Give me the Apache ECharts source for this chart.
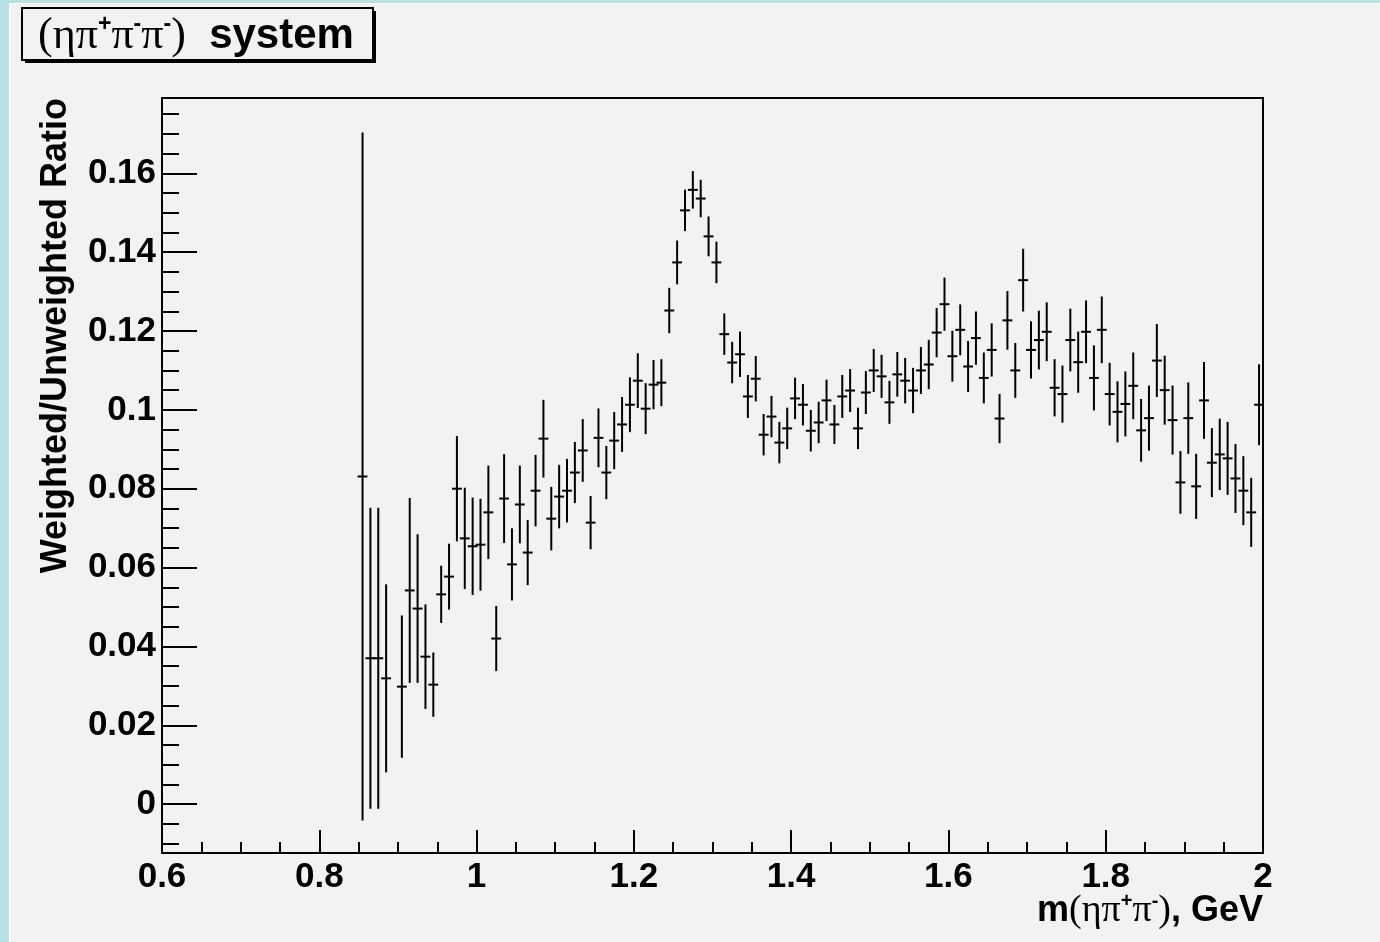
<!DOCTYPE html>
<html>
<head>
<meta charset="utf-8">
<script src="https://cdn.jsdelivr.net/npm/echarts@6/dist/echarts.min.js"></script>
<style>
  html, body { margin: 0; padding: 0; background: #f2f2f2; }
  #chart { width: 1380px; height: 942px; }
</style>
</head>
<body>
<div id="chart"></div>
<script>
// Histogram binning in m(eta pi+ pi-), GeV
const BIN_START = 0.85;
const BIN_WIDTH = 0.01;

// Weighted/unweighted ratio per bin (null = empty bin)
const ratio = [
  0.0831, 0.0370, 0.0370, 0.0319, null,   0.0298, 0.0542, 0.0496, 0.0374, 0.0303,
  0.0532, 0.0577, 0.0800, 0.0674, 0.0654, 0.0658, 0.0740, 0.0420, 0.0775, 0.0608,
  0.0760, 0.0638, 0.0795, 0.0927, 0.0724, 0.0780, 0.0795, 0.0841, 0.0897, 0.0714,
  0.0929, 0.0841, 0.0922, 0.0963, 0.1013, 0.1074, 0.1003, 0.1064, 0.1069, 0.1252,
  0.1374, 0.1506, 0.1558, 0.1536, 0.1440, 0.1374, 0.1192, 0.1120, 0.1141, 0.1034,
  0.1079, 0.0937, 0.0983, 0.0917, 0.0953, 0.1029, 0.1013, 0.0947, 0.0968, 0.1024,
  0.0963, 0.1034, 0.1049, 0.0953, 0.1044, 0.1100, 0.1085, 0.1019, 0.1090, 0.1074,
  0.1049, 0.1100, 0.1115, 0.1196, 0.1268, 0.1136, 0.1203, 0.1110, 0.1182, 0.1081,
  0.1152, 0.0978, 0.1227, 0.1100, 0.1329, 0.1152, 0.1177, 0.1198, 0.1056, 0.1040,
  0.1177, 0.1121, 0.1198, 0.1081, 0.1203, 0.1040, 0.0995, 0.1015, 0.1061, 0.0948,
  0.0979, 0.1125, 0.1050, 0.0974, 0.0816, 0.0979, 0.0806, 0.1024, 0.0866, 0.0887,
  0.0877, 0.0826, 0.0795, 0.0740, 0.1013
];

// Statistical error of each bin
const ratioErr = [
  0.0870, 0.0379, 0.0379, 0.0236, null,   0.0178, 0.0232, 0.0186, 0.0130, 0.0079,
  0.0070, 0.0081, 0.0131, 0.0126, 0.0121, 0.0114, 0.0116, 0.0080, 0.0110, 0.0089,
  0.0096, 0.0080, 0.0088, 0.0096, 0.0078, 0.0078, 0.0078, 0.0075, 0.0077, 0.0065,
  0.0072, 0.0065, 0.0070, 0.0067, 0.0067, 0.0067, 0.0062, 0.0060, 0.0057, 0.0055,
  0.0053, 0.0050, 0.0045, 0.0045, 0.0048, 0.0050, 0.0050, 0.0050, 0.0055, 0.0052,
  0.0055, 0.0050, 0.0050, 0.0050, 0.0050, 0.0050, 0.0050, 0.0050, 0.0050, 0.0050,
  0.0047, 0.0052, 0.0052, 0.0050, 0.0052, 0.0052, 0.0052, 0.0052, 0.0054, 0.0055,
  0.0055, 0.0057, 0.0060, 0.0060, 0.0065, 0.0062, 0.0062, 0.0062, 0.0065, 0.0062,
  0.0065, 0.0060, 0.0072, 0.0067, 0.0077, 0.0070, 0.0072, 0.0072, 0.0070, 0.0070,
  0.0077, 0.0075, 0.0077, 0.0080, 0.0082, 0.0077, 0.0075, 0.0080, 0.0082, 0.0077,
  0.0080, 0.0090, 0.0085, 0.0085, 0.0077, 0.0088, 0.0080, 0.0095, 0.0085, 0.0088,
  0.0090, 0.0085, 0.0085, 0.0085, 0.0100
];

// Axis ranges and tick positions
const xRange = [0.6, 2.0];
const yRange = [-0.0124, 0.1791];
const yMajorTicks = [0, 0.02, 0.04, 0.06, 0.08, 0.10, 0.12, 0.14, 0.16];
const yMinorTicks = [-0.010, -0.005, 0.005, 0.010, 0.015, 0.025, 0.030, 0.035,
  0.045, 0.050, 0.055, 0.065, 0.070, 0.075, 0.085, 0.090, 0.095,
  0.105, 0.110, 0.115, 0.125, 0.130, 0.135, 0.145, 0.150, 0.155,
  0.165, 0.170, 0.175];

// Build [binCenter, value, error] points, skipping empty bins
const points = [];
ratio.forEach((v, i) => {
  if (v == null) return;
  const center = +(BIN_START + (i + 0.5) * BIN_WIDTH).toFixed(4);
  points.push([center, v, ratioErr[i]]);
});

const SANS = '"Liberation Sans", Arial, Helvetica, sans-serif';
const SERIF = '"Liberation Serif", "Times New Roman", serif';
const BLACK = '#000000';
const BG = '#f2f2f2';

// rich-text styles: bold sans, serif greek, superscript charge
const axisTitleRich = {
  b: { fontFamily: SANS, fontWeight: 'bold', fontSize: 36, lineHeight: 40, color: BLACK },
  p: { fontFamily: SERIF, fontWeight: 'normal', fontSize: 38, lineHeight: 40, color: BLACK },
  s: { fontFamily: SANS, fontWeight: 'bold', fontSize: 20, lineHeight: 20, verticalAlign: 'top', color: BLACK }
};
const headerRich = {
  b: { fontFamily: SANS, fontWeight: 'bold', fontSize: 42, lineHeight: 46, color: BLACK },
  p: { fontFamily: SERIF, fontWeight: 'normal', fontSize: 44, lineHeight: 46, color: BLACK },
  s: { fontFamily: SANS, fontWeight: 'bold', fontSize: 23, lineHeight: 23, verticalAlign: 'top', color: BLACK }
};

function fmt(v) {
  return String(+(+v).toFixed(3));
}

const chart = echarts.init(document.getElementById('chart'), null, { renderer: 'canvas' });

chart.setOption({
  animation: false,
  backgroundColor: BG,
  grid: {
    left: 162, right: 117, top: 98, bottom: 89,
    show: true, borderColor: BLACK, borderWidth: 2, backgroundColor: 'transparent'
  },
  xAxis: {
    type: 'value',
    min: xRange[0], max: xRange[1], interval: 0.2,
    axisLine: { show: true, onZero: false, lineStyle: { color: BLACK, width: 2 } },
    axisTick: { show: true, inside: true, length: 23, lineStyle: { color: BLACK, width: 2 } },
    minorTick: { show: true, splitNumber: 4, length: 11, lineStyle: { color: BLACK, width: 2 } },
    axisLabel: {
      color: BLACK, fontFamily: SANS, fontWeight: 'bold', fontSize: 35, margin: 7,
      formatter: fmt
    },
    splitLine: { show: false },
    minorSplitLine: { show: false }
  },
  yAxis: [
    {
      type: 'value',
      min: yRange[0], max: yRange[1],
      axisLine: { show: true, onZero: false, lineStyle: { color: BLACK, width: 2 } },
      axisTick: { show: true, inside: true, length: 35, customValues: yMajorTicks, lineStyle: { color: BLACK, width: 2 } },
      axisLabel: {
        color: BLACK, fontFamily: SANS, fontWeight: 'bold', fontSize: 35, margin: 6,
        customValues: yMajorTicks, formatter: fmt
      },
      splitLine: { show: false }
    },
    {
      type: 'value',
      min: yRange[0], max: yRange[1], position: 'left',
      axisLine: { show: false },
      axisTick: { show: true, inside: true, length: 17, customValues: yMinorTicks, lineStyle: { color: BLACK, width: 2 } },
      axisLabel: { show: false },
      splitLine: { show: false }
    }
  ],
  series: [{
    name: 'Weighted/Unweighted Ratio',
    type: 'custom',
    xAxisIndex: 0,
    yAxisIndex: 0,
    clip: true,
    encode: { x: 0, y: 1 },
    data: points,
    renderItem(params, api) {
      const x = api.value(0), y = api.value(1), e = api.value(2);
      const top = api.coord([x, y + e]);
      const bot = api.coord([x, y - e]);
      const left = api.coord([x - BIN_WIDTH / 2, y]);
      const right = api.coord([x + BIN_WIDTH / 2, y]);
      const style = { stroke: BLACK, lineWidth: 2, fill: null, lineCap: 'square' };
      return {
        type: 'group',
        children: [
          { type: 'line', shape: { x1: top[0], y1: top[1], x2: bot[0], y2: bot[1] }, style },
          { type: 'line', shape: { x1: left[0], y1: left[1], x2: right[0], y2: right[1] }, style }
        ]
      };
    }
  }],
  graphic: [
    // canvas frame edges
    { type: 'rect', left: 0, top: 0, shape: { width: 9, height: 942 }, style: { fill: '#b9e0e2' }, silent: true },
    { type: 'rect', left: 9, top: 0, shape: { width: 1, height: 942 }, style: { fill: '#ffffff' }, silent: true },
    { type: 'rect', left: 0, top: 0, shape: { width: 1380, height: 3 }, style: { fill: '#b9e0e2' }, silent: true },
    { type: 'rect', left: 10, top: 3, shape: { width: 1370, height: 1 }, style: { fill: '#ffffff' }, silent: true },
    // title box with shadow
    { type: 'rect', shape: { x: 25, y: 11, width: 351, height: 52 }, style: { fill: BLACK }, silent: true },
    { type: 'rect', shape: { x: 22, y: 8, width: 351, height: 52 }, style: { fill: BG, stroke: BLACK, lineWidth: 2 }, silent: true },
    {
      type: 'text', x: 196, y: 36, silent: true,
      style: {
        text: '{p|(ηπ}{s|+}{p|π}{s|-}{p|π}{s|-}{p|)}{b|  system}',
        rich: headerRich, align: 'center', verticalAlign: 'middle'
      }
    },
    // axis titles
    {
      type: 'text', x: 56, y: 98, rotation: Math.PI / 2, silent: true,
      style: {
        text: 'Weighted/Unweighted Ratio', fill: BLACK,
        font: 'bold 36px ' + SANS, align: 'right', verticalAlign: 'middle'
      }
    },
    {
      type: 'text', x: 1263, y: 911, silent: true,
      style: {
        text: '{b|m}{p|(ηπ}{s|+}{p|π}{s|-}{p|)}{b|, GeV}',
        rich: axisTitleRich, align: 'right', verticalAlign: 'middle'
      }
    }
  ]
});
</script>
</body>
</html>
